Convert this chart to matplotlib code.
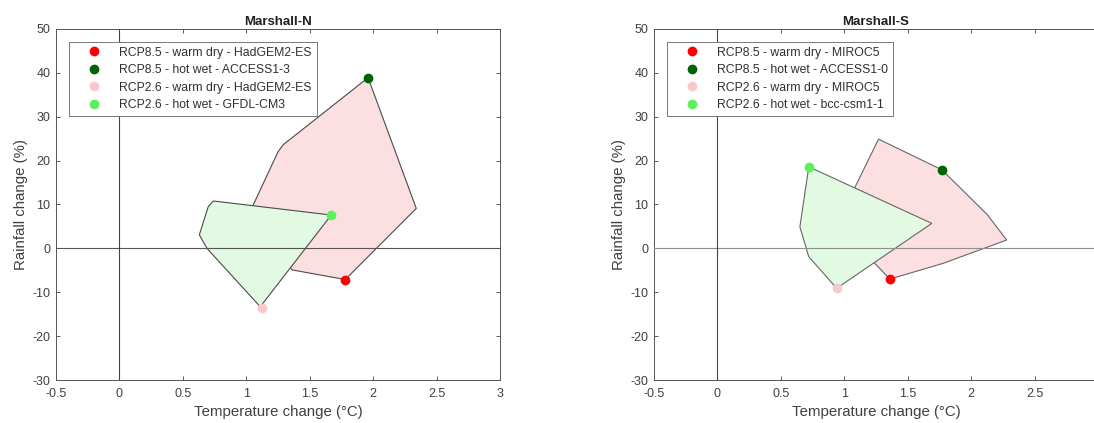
import numpy as np
import matplotlib.pyplot as plt

plt.rcParams['font.family'] = ['Liberation Sans', 'DejaVu Sans']
plt.rcParams['axes.unicode_minus'] = False

# ---- data ----
titles = ["Marshall-N", "Marshall-S"]

# RCP8.5 envelope (pink) and RCP2.6 envelope (green), per region
n_pink_x = [1.96, 2.34, 1.78, 1.36, 1.05, 1.25, 1.29]
n_pink_y = [38.9, 9.1, -7.1, -4.9, 9.6, 22.0, 23.6]
n_green_x = [0.74, 1.67, 1.11, 0.69, 0.63, 0.70]
n_green_y = [10.8, 7.6, -13.3, 0.0, 3.1, 9.5]

s_pink_x = [1.27, 1.77, 2.13, 2.28, 1.78, 1.36, 1.24, 1.08]
s_pink_y = [24.9, 17.9, 7.6, 1.9, -3.4, -7.0, -3.4, 13.7]
s_green_x = [0.72, 1.69, 0.94, 0.72, 0.65]
s_green_y = [18.6, 5.7, -9.1, -1.9, 4.9]

# selected models: warm dry 8.5, hot wet 8.5, warm dry 2.6, hot wet 2.6
n_pts_x = [1.78, 1.96, 1.12, 1.67]
n_pts_y = [-7.1, 38.9, -13.7, 7.6]
n_labels = ["RCP8.5 - warm dry - HadGEM2-ES", "RCP8.5 - hot wet - ACCESS1-3",
            "RCP2.6 - warm dry - HadGEM2-ES", "RCP2.6 - hot wet - GFDL-CM3"]

s_pts_x = [1.36, 1.77, 0.94, 0.72]
s_pts_y = [-7.0, 17.9, -9.1, 18.6]
s_labels = ["RCP8.5 - warm dry - MIROC5", "RCP8.5 - hot wet - ACCESS1-0",
            "RCP2.6 - warm dry - MIROC5", "RCP2.6 - hot wet - bcc-csm1-1"]

pt_colors = ["#ff0000", "#006400", "#f9c8cc", "#5cf060"]

xticks = [-0.5, 0, 0.5, 1, 1.5, 2, 2.5, 3]
xticklabels_n = ["-0.5", "0", "0.5", "1", "1.5", "2", "2.5", "3"]
xticklabels_s = ["-0.5", "0", "0.5", "1", "1.5", "2", "2.5", ""]  # "3" falls off the page
yticks = [-30, -20, -10, 0, 10, 20, 30, 40, 50]

txt = "#404040"


def panel(ax, title, pink, green, px, py, labels, xlabs, hcol, ecol):
    ax.fill(pink[0], pink[1], facecolor="#fce0e1", edgecolor=ecol, lw=0.8, zorder=1)
    ax.fill(green[0], green[1], facecolor="#e2f9e2", edgecolor=ecol, lw=0.8, zorder=2)
    ax.axhline(0, color=hcol, lw=0.8, zorder=3)
    ax.axvline(0, color="#444444", lw=0.8, zorder=3)
    for x, y, c, lab in zip(px, py, pt_colors, labels):
        ax.plot([x], [y], "o", color=c, ms=6, ls="none", label=lab, zorder=4)
    ax.set_xlim(-0.5, 3)
    ax.set_ylim(-30, 50)
    ax.set_xticks(xticks)
    ax.set_xticklabels(xlabs)
    ax.set_yticks(yticks)
    ax.tick_params(direction="in", length=3, width=0.6, top=True, right=True,
                   labelsize=9, colors=txt)
    ax.tick_params(axis="x", pad=6)
    ax.tick_params(axis="y", pad=4)
    for sp in ax.spines.values():
        sp.set_color("#555555")
        sp.set_linewidth(0.7)
    ax.set_title(title, fontsize=9.5, fontweight="bold", color="#202020", pad=3)
    ax.set_xlabel("Temperature change (°C)", fontsize=10.8, color=txt, labelpad=3)
    ax.set_ylabel("Rainfall change (%)", fontsize=10.8, color=txt, labelpad=3)
    leg = ax.legend(loc="upper left", bbox_to_anchor=(0.030, 0.964), borderaxespad=0,
                    fontsize=8.8, frameon=True, fancybox=False, framealpha=1,
                    edgecolor="#777777", handlelength=3.3, handletextpad=0.4,
                    borderpad=0.4, labelspacing=0.45, numpoints=1)
    leg.get_frame().set_linewidth(0.7)
    for t in leg.get_texts():
        t.set_color("#303030")


fig = plt.figure(figsize=(10.94, 4.23), dpi=100)
ax1 = fig.add_axes([56 / 1094, 43 / 423, 444 / 1094, 351 / 423])
ax2 = fig.add_axes([654 / 1094, 43 / 423, 444 / 1094, 351 / 423])

panel(ax1, titles[0], (n_pink_x, n_pink_y), (n_green_x, n_green_y),
      n_pts_x, n_pts_y, n_labels, xticklabels_n, "#555555", "#4a4a4a")
panel(ax2, titles[1], (s_pink_x, s_pink_y), (s_green_x, s_green_y),
      s_pts_x, s_pts_y, s_labels, xticklabels_s, "#909090", "#666666")

fig.savefig("out.png", dpi=100)
